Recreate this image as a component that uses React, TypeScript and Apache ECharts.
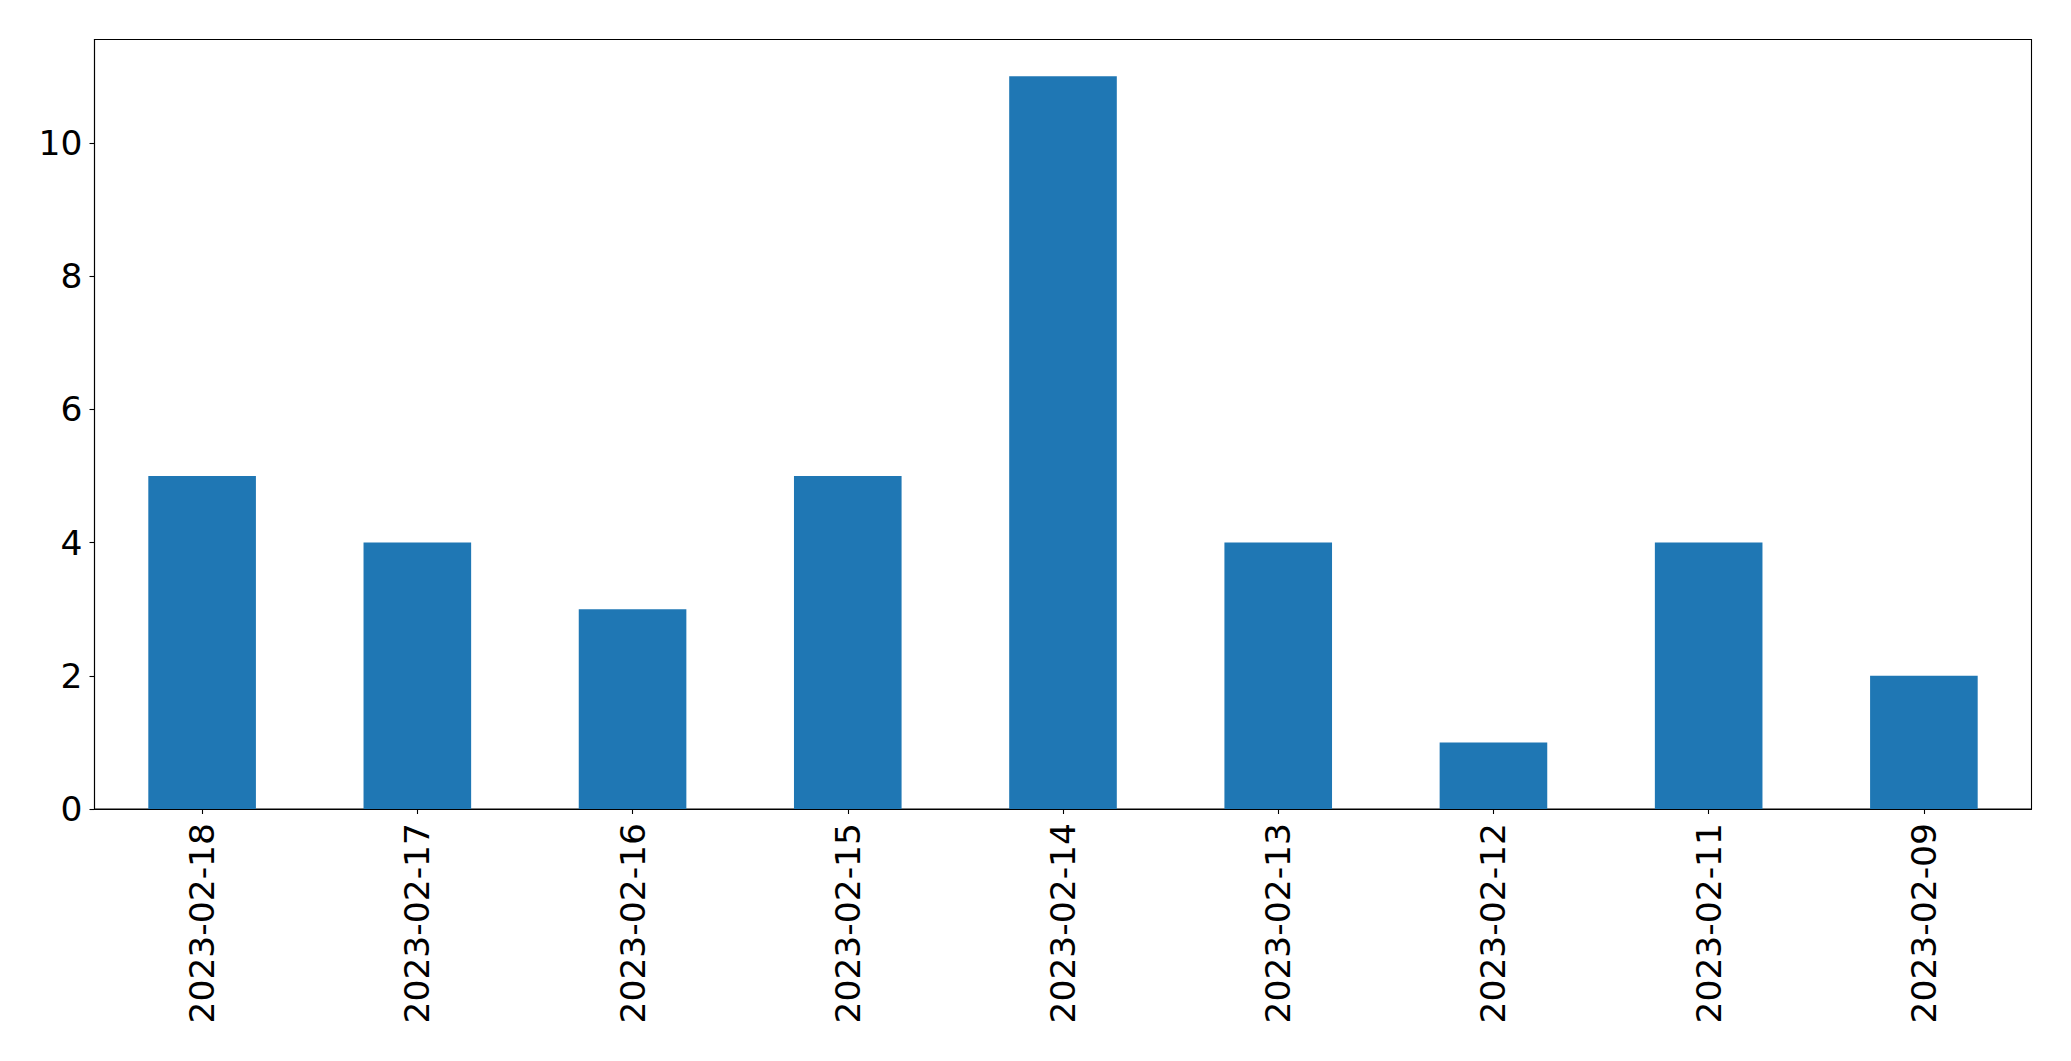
import React, { useEffect, useRef } from "react";
import * as echarts from "echarts";

const categories = [
  "2023-02-18",
  "2023-02-17",
  "2023-02-16",
  "2023-02-15",
  "2023-02-14",
  "2023-02-13",
  "2023-02-12",
  "2023-02-11",
  "2023-02-09",
];
const values = [5, 4, 3, 5, 11, 4, 1, 4, 2];
const yTicks = [0, 2, 4, 6, 8, 10];

export default function App() {
  const ref = useRef<HTMLDivElement>(null);
  useEffect(() => {
    document.body.style.margin = "0";
    const chart = echarts.init(ref.current!, null, { renderer: "svg" });
    const font = "DejaVu Sans";
    chart.setOption({
      animation: false,
      backgroundColor: "#ffffff",
      grid: {
        left: 94.5,
        right: 39.5,
        top: 39.5,
        bottom: 252,
        show: true,
        borderColor: "#000000",
        borderWidth: 1.1,
        backgroundColor: "transparent",
      },
      xAxis: {
        type: "category",
        data: categories,
        boundaryGap: true,
        axisLine: { show: true, lineStyle: { color: "#000", width: 1.1 } },
        axisTick: { show: true, alignWithLabel: true, length: 5, lineStyle: { color: "#000", width: 1.1 } },
        axisLabel: {
          rotate: 90,
          margin: 14,
          color: "#000",
          fontFamily: font,
          fontSize: 34.5,
          interval: 0,
        },
        splitLine: { show: false },
      },
      yAxis: {
        type: "value",
        min: 0,
        max: 11.55,
        interval: 2,
        axisLine: { show: true, lineStyle: { color: "#000", width: 1.1 } },
        axisTick: { show: true, length: 5, customValues: yTicks, lineStyle: { color: "#000", width: 1.1 } },
        axisLabel: {
          customValues: yTicks,
          margin: 12,
          color: "#000",
          fontFamily: font,
          fontSize: 34.5,
        },
        splitLine: { show: false },
      },
      series: [
        {
          type: "bar",
          data: values,
          barWidth: "50%",
          itemStyle: { color: "#1f77b4" },
        },
      ],
    });
    return () => chart.dispose();
  }, []);
  return <div ref={ref} style={{ width: 2071, height: 1061 }} />;
}
